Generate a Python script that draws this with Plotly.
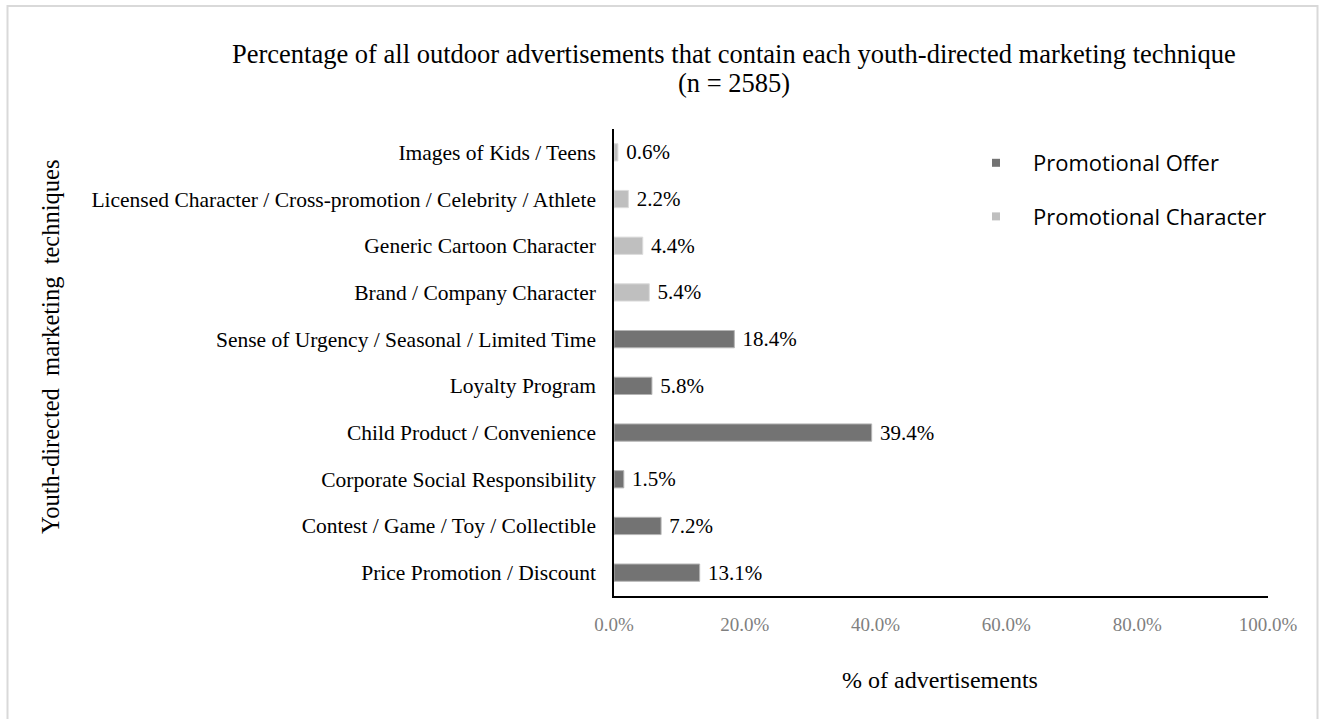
import plotly.graph_objects as go

# Marketing techniques, listed bottom to top on the chart
offer_labels = [
    "Price Promotion / Discount",
    "Contest / Game / Toy / Collectible",
    "Corporate Social Responsibility",
    "Child Product / Convenience",
    "Loyalty Program",
    "Sense of Urgency / Seasonal / Limited Time",
]
offer_values = [13.1, 7.2, 1.5, 39.4, 5.8, 18.4]

character_labels = [
    "Brand / Company Character",
    "Generic Cartoon Character",
    "Licensed Character / Cross-promotion / Celebrity / Athlete",
    "Images of Kids / Teens",
]
character_values = [5.4, 4.4, 2.2, 0.6]

x_ticks = [0, 20, 40, 60, 80, 100]

SERIF = "Liberation Serif, Times New Roman, serif"
SANS = "Open Sans, Arial, sans-serif"

W, H = 1320, 719
L, R, T, B = 614, 52, 129, 123
PW, PH = W - L - R, H - T - B


def px_x(px):
    return (px - L) / PW


def px_y(px):
    return (H - B - px) / PH


fig = go.Figure()

fig.add_trace(go.Bar(
    y=offer_labels, x=offer_values, orientation="h",
    marker=dict(color="#737373", line=dict(color="#b5b5b5", width=1)),
    text=[f"{v:.1f}%" for v in offer_values],
    texttemplate=" %{text}", textposition="outside", cliponaxis=False,
    constraintext="none",
    textfont=dict(family=SERIF, size=21, color="#000000"),
    showlegend=False, hoverinfo="skip",
))
fig.add_trace(go.Bar(
    y=character_labels, x=character_values, orientation="h",
    marker=dict(color="#bfbfbf", line=dict(color="#dcdcdc", width=1)),
    text=[f"{v:.1f}%" for v in character_values],
    texttemplate=" %{text}", textposition="outside", cliponaxis=False,
    constraintext="none",
    textfont=dict(family=SERIF, size=21, color="#000000"),
    showlegend=False, hoverinfo="skip",
))

# Legend entries shown as small square swatches
fig.add_trace(go.Scatter(
    x=[None], y=[None], mode="markers", name="Promotional Offer",
    marker=dict(symbol="square", size=8, color="#737373"),
    legendgroup="offer",
))
fig.add_trace(go.Scatter(
    x=[None], y=[None], mode="markers", name="Promotional Character",
    marker=dict(symbol="square", size=8, color="#bfbfbf"),
    legendgroup="character",
))

fig.update_layout(
    width=W, height=H,
    margin=dict(l=L, r=R, t=T, b=B, autoexpand=False),
    paper_bgcolor="white", plot_bgcolor="white",
    barmode="overlay", bargap=0.63,
    font=dict(family=SERIF, color="#000000"),
    legend=dict(
        x=px_x(959), y=px_y(142), xanchor="left", yanchor="top",
        font=dict(family=SANS, size=22, color="#000000"),
        tracegroupgap=22, traceorder="grouped", itemwidth=64,
        bgcolor="rgba(0,0,0,0)",
    ),
    xaxis=dict(
        range=[0, 100], tickvals=x_ticks,
        ticktext=[f"{v:.1f}%" for v in x_ticks],
        showgrid=False, zeroline=False,
        showline=True, linecolor="#000000", linewidth=1.5,
        tickfont=dict(family=SERIF, size=19, color="#7f7f7f"),
        ticks="", ticklabelstandoff=10,
    ),
    yaxis=dict(
        categoryorder="array",
        categoryarray=offer_labels + character_labels,
        range=[-0.5, 9.5],
        showgrid=False, zeroline=False,
        showline=True, linecolor="#000000", linewidth=1.5,
        tickfont=dict(family=SERIF, size=21.5, color="#000000"),
        ticks="", ticklabelstandoff=12,
    ),
    annotations=[
        dict(
            text="Percentage of all outdoor advertisements that contain each youth-directed marketing technique",
            xref="paper", yref="paper", x=px_x(734), y=px_y(54),
            xanchor="center", yanchor="middle", showarrow=False,
            font=dict(family=SERIF, size=26.5, color="#000000"),
        ),
        dict(
            text="(n = 2585)",
            xref="paper", yref="paper", x=px_x(734), y=px_y(83),
            xanchor="center", yanchor="middle", showarrow=False,
            font=dict(family=SERIF, size=26.5, color="#000000"),
        ),
        dict(
            text="Youth-directed  marketing  techniques",
            xref="paper", yref="paper", x=px_x(50), y=px_y(347),
            xanchor="center", yanchor="middle", textangle=-90,
            showarrow=False,
            font=dict(family=SERIF, size=24.5, color="#000000"),
        ),
        dict(
            text="% of advertisements",
            xref="paper", yref="paper", x=px_x(940), y=px_y(680),
            xanchor="center", yanchor="middle", showarrow=False,
            font=dict(family=SERIF, size=24, color="#000000"),
        ),
    ],
    shapes=[
        dict(
            type="rect", xref="paper", yref="paper",
            x0=px_x(7.5), x1=px_x(1317.5),
            y0=px_y(740), y1=px_y(6),
            line=dict(color="#d9d9d9", width=2), fillcolor="rgba(0,0,0,0)",
            layer="below",
        ),
    ],
)

fig.write_html("out.html")
